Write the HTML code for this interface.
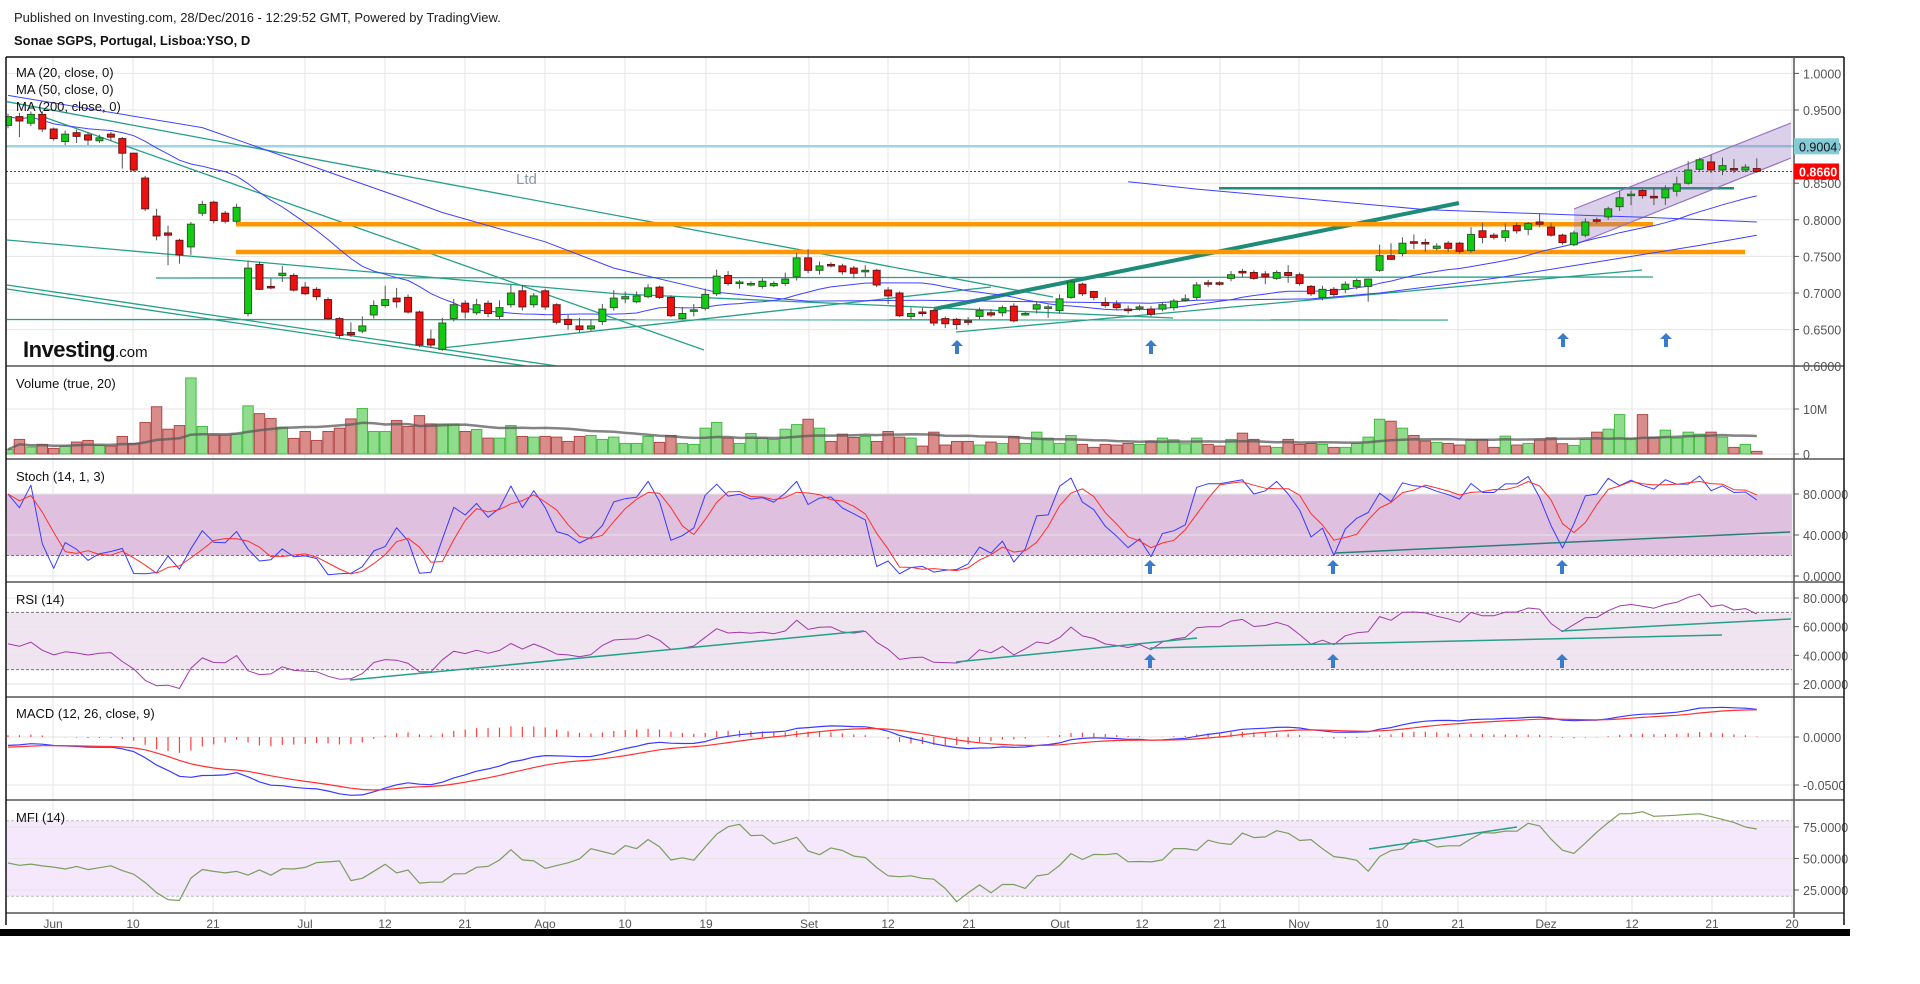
<!DOCTYPE html>
<html><head><meta charset="utf-8"><title>Sonae SGPS chart</title>
<style>
html,body{margin:0;padding:0;background:#fff;width:1920px;height:984px;overflow:hidden}
svg{display:block;font-family:"Liberation Sans",Arial,sans-serif}
</style></head>
<body>
<svg id="chart" width="1920" height="984" viewBox="0 0 1920 984" xmlns="http://www.w3.org/2000/svg">
<text x="14" y="22" font-size="13" fill="#222">Published on Investing.com, 28/Dec/2016 - 12:29:52 GMT, Powered by TradingView.</text>
<text x="14" y="45" font-size="13" font-weight="bold" fill="#111">Sonae SGPS, Portugal, Lisboa:YSO, D</text>
<g id="layer"></g>
</svg>
<script>
const opens=[.929,.941,.932,.944,.924,.907,.919,.916,.908,.917,.911,.891,.857,.805,.782,.772,.763,.809,.824,.809,.798,.672,.739,.709,.724,.724,.708,.705,.691,.665,.646,.648,.670,.683,.693,.694,.674,.637,.623,.665,.686,.673,.686,.668,.684,.703,.684,.703,.684,.664,.655,.651,.661,.680,.692,.688,.695,.708,.694,.665,.676,.679,.699,.724,.714,.711,.709,.710,.713,.722,.748,.731,.739,.737,.734,.730,.731,.704,.700,.668,.674,.676,.665,.664,.662,.668,.673,.673,.682,.671,.678,.680,.676,.694,.712,.702,.687,.685,.678,.680,.678,.678,.680,.691,.694,.714,.714,.720,.7295,.728,.726,.720,.728,.725,.709,.694,.705,.705,.709,.709,.731,.751,.754,.770,.769,.761,.768,.768,.758,.785,.779,.776,.792,.787,.797,.790,.779,.766,.779,.800,.804,.818,.834,.840,.832,.830,.839,.850,.869,.879,.868,.870,.868,.870];
const closes=[.941,.935,.944,.924,.911,.917,.914,.909,.912,.913,.891,.868,.815,.778,.779,.752,.794,.821,.799,.798,.817,.734,.705,.707,.727,.704,.699,.695,.665,.642,.643,.655,.683,.691,.688,.674,.629,.629,.659,.684,.674,.684,.672,.680,.700,.681,.696,.681,.660,.657,.650,.655,.678,.693,.695,.696,.707,.694,.669,.672,.677,.698,.723,.713,.715,.713,.716,.713,.719,.748,.731,.737,.738,.729,.727,.731,.711,.696,.669,.672,.673,.659,.658,.657,.661,.676,.670,.680,.662,.672,.684,.681,.692,.715,.699,.694,.683,.680,.676,.681,.671,.684,.689,.692,.711,.713,.713,.725,.729,.720,.722,.728,.724,.713,.699,.705,.698,.712,.717,.719,.751,.746,.768,.769,.768,.764,.761,.757,.780,.776,.776,.785,.785,.795,.794,.779,.769,.782,.797,.798,.815,.830,.835,.833,.831,.842,.849,.868,.882,.868,.874,.868,.872,.866];
const highs=[.945,.946,.948,.948,.926,.922,.923,.920,.916,.920,.913,.891,.860,.815,.792,.774,.797,.826,.826,.812,.822,.744,.743,.720,.737,.727,.715,.708,.694,.667,.660,.668,.690,.710,.707,.698,.676,.650,.666,.692,.690,.692,.690,.690,.711,.711,.700,.706,.686,.670,.666,.664,.685,.704,.702,.702,.712,.710,.697,.681,.685,.706,.732,.730,.718,.716,.720,.716,.728,.755,.760,.743,.742,.740,.737,.738,.733,.708,.702,.680,.680,.678,.668,.666,.667,.680,.678,.683,.686,.674,.689,.684,.698,.718,.714,.703,.694,.690,.683,.684,.682,.688,.692,.698,.715,.718,.716,.730,.733,.731,.730,.731,.738,.728,.711,.710,.708,.716,.720,.720,.766,.768,.776,.780,.774,.768,.771,.770,.790,.796,.782,.795,.796,.797,.809,.796,.781,.785,.802,.803,.818,.840,.840,.842,.843,.847,.859,.880,.885,.889,.885,.883,.876,.884];
const lows=[.925,.913,.928,.920,.908,.902,.905,.902,.905,.908,.870,.866,.812,.772,.738,.740,.752,.805,.795,.795,.795,.668,.704,.705,.715,.702,.697,.690,.663,.638,.640,.645,.665,.680,.680,.672,.626,.625,.621,.661,.665,.670,.667,.664,.680,.676,.680,.677,.657,.650,.646,.648,.656,.676,.686,.686,.693,.692,.667,.664,.668,.676,.696,.710,.706,.709,.706,.708,.710,.717,.727,.725,.735,.725,.720,.722,.708,.685,.667,.664,.668,.655,.652,.650,.656,.664,.667,.668,.660,.669,.672,.666,.672,.692,.696,.690,.680,.676,.672,.676,.668,.675,.676,.688,.690,.708,.710,.716,.722,.718,.712,.718,.714,.710,.696,.690,.695,.700,.705,.688,.729,.745,.750,.760,.756,.758,.756,.754,.755,.768,.773,.770,.781,.779,.790,.777,.766,.764,.776,.795,.800,.812,.820,.829,.820,.820,.832,.848,.866,.864,.861,.864,.865,.864];
const volumesM=[1.03,3.24,1.54,2.13,1.25,1.76,2.65,3.01,1.91,1.76,3.9,2.35,6.99,10.5,5.51,6.32,16.9,6.1,4.19,4.19,4.41,10.7,8.97,7.87,5.96,3.46,5.0,3.01,5.0,5.74,7.79,10.1,5.0,5.0,7.43,6.1,8.53,6.69,6.69,6.69,5.0,5.44,3.53,3.53,6.32,3.9,3.75,3.9,3.75,2.79,3.9,4.12,3.24,3.75,2.35,2.35,3.9,2.57,4.12,2.35,2.13,5.74,6.99,3.53,2.35,4.56,3.53,3.24,5.51,6.54,7.72,5.74,2.79,4.41,3.68,3.9,2.79,5.0,
3.75,3.53,1.76,4.85,1.99,2.79,2.79,1.99,2.65,2.35,3.9,2.35,4.85,3.53,2.35,4.12,2.13,1.47,2.13,1.99,2.35,2.13,2.87,3.53,3.16,2.28,3.53,2.13,1.76,3.24,4.63,3.24,1.76,1.47,3.24,2.13,2.35,2.13,1.47,1.47,2.35,3.75,7.72,7.28,5.74,4.12,2.87,2.57,2.35,1.99,3.24,3.24,1.47,3.97,1.99,2.35,3.09,3.6,2.28,1.91,3.24,4.85,5.51,8.75,3.53,8.75,3.75,5.29,3.53,4.85,4.41,4.85,3.75,1.47,2.13,0.59];
const ma50Idx=[0,17,35,38,47,53,62,67,70,80,90,100,104,114,120,130,140,148,153];
const ma50Val=[.970,.926,.827,.810,.770,.734,.701,.693,.689,.690,.688,.686,.690,.692,.700,.720,.745,.765,.779];
const ma200Idx=[98,104,124,138,144,153];
const ma200Val=[.852,.842,.814,.806,.803,.797];
// indicator starting state (history before the first visible bar)
const rsiSeedGain=[0.006];
const rsiSeedLoss=[0.0065];
const macdSeedEma=[0.935,0.945,-0.011];
const mfiSeedFlow=[2.6,3.0];
const xTickLabels=["Jun","10","21","Jul","12","21","Ago","10","19","Set","12","21","Out","12","21","Nov","10","21","Dez","12","21","20"];
const xTickPos=[53,133,213,305,385,465,545,625,706,809,888,969,1060,1142,1220,1299,1382,1458,1546,1632,1712,1792];
const priceTicks=[1.0,0.95,0.90,0.85,0.80,0.75,0.70,0.65,0.60];

const NS="http://www.w3.org/2000/svg";
const layer=document.getElementById('layer');
function mk(tag,attrs,parent){const e=document.createElementNS(NS,tag);for(const k in attrs)e.setAttribute(k,attrs[k]);(parent||layer).appendChild(e);return e;}
const L=6,R=1794,FR=1844;
const X=i=>8+i*11.43;
const PY=p=>293-(p-0.7)*732;
const VY=v=>454-v*4.5;
const SY=s=>576-s*1.025;
const RY=r=>598+(80-r)*1.4333;
const MY=m=>737-m*960;
const FY=v=>827+(75-v)*1.26;
const panes=[[57,366],[366,459],[459,582],[582,697],[697,800],[800,913]];

const defs=mk('defs',{});
panes.forEach((p,k)=>{const c=mk('clipPath',{id:'cp'+k},defs);mk('rect',{x:L,y:p[0],width:R-L,height:p[1]-p[0]},c);});

xTickPos.forEach((x,k)=>{
 const g=mk('line',{x1:x,x2:x,y1:57,y2:913,stroke:'#e6e6e6','stroke-width':1});
 
 
 const t=mk('text',{x:x,y:928,'font-size':12,fill:'#555','text-anchor':'middle'});
 t.textContent=xTickLabels[k];
 
 
});
function hgrid(y,label,name){
 const g=mk('line',{x1:L,x2:R,y1:y,y2:y,stroke:'#e6e6e6','stroke-width':1});
 
 
 mk('line',{x1:R,x2:R+5,y1:y,y2:y,stroke:'#555'});
 const t=mk('text',{x:R+9,y:y+5,'font-size':12.5,fill:'#555'});
 t.textContent=label;
 
 
}
priceTicks.forEach(p=>hgrid(PY(p),p.toFixed(4),'price'));
hgrid(VY(10),'10M','volume');hgrid(VY(0),'0','volume');
function band(y1,y2,fill,name,dash){
 const b=mk('rect',{x:L,y:y1,width:R-L-2,height:y2-y1,fill:fill});
 
 
 mk('line',{x1:L,x2:R-2,y1:y1,y2:y1,stroke:dash,'stroke-dasharray':'3,2'});
 mk('line',{x1:L,x2:R-2,y1:y2,y2:y2,stroke:dash,'stroke-dasharray':'3,2'});
}
band(SY(80),SY(20),'#dfc0df','stoch-band','#777');
[80,40,0].forEach(v=>hgrid(SY(v),v.toFixed(4),'stoch'));
band(RY(70),RY(30),'#f0e4f1','rsi-band','#777');
[80,60,40,20].forEach(v=>hgrid(RY(v),v.toFixed(4),'rsi'));
[0,-0.05].forEach(v=>hgrid(MY(v),v.toFixed(4),'macd'));
band(FY(80),FY(20),'#f5e8fc','mfi-band','#bbb');
[75,50,25].forEach(v=>hgrid(FY(v),v.toFixed(4),'mfi'));

const gMain=mk('g',{'clip-path':'url(#cp0)'});


const hl1=mk('line',{x1:L,x2:R,y1:PY(0.9004),y2:PY(0.9004),stroke:'#9fd4e2','stroke-width':2.5},gMain);


const hl2=mk('line',{x1:L,x2:R,y1:PY(0.866),y2:PY(0.866),stroke:'#e00','stroke-width':1,'stroke-dasharray':'2,2'},gMain);


function seg(pts,color,w,name,parent){
 const p=mk('polyline',{points:pts.map(a=>a.join(',')).join(' '),fill:'none',stroke:color,'stroke-width':w},parent);
 
 
 return p;
}
const teal='#26a08a';
seg([[7,101.7],[1053,297]],teal,1.3,'trendline-a',gMain);
seg([[38,115],[704,350]],teal,1.3,'trendline-b',gMain);
seg([[7,240],[620,294],[1173,318]],teal,1.3,'trendline-c',gMain);
seg([[156,278],[1653,277]],teal,1.3,'support-line-d',gMain);
seg([[7,319.5],[1448,320]],teal,1.3,'support-line-e',gMain);
seg([[7,285],[557,366]],teal,1.3,'channel-line-f1',gMain);
seg([[7,289],[560,371]],teal,1.3,'channel-line-f2',gMain);
seg([[442,348],[991,287]],teal,1.3,'trendline-g',gMain);
seg([[956,332],[1642,270]],teal,1.3,'trendline-h',gMain);
seg([[934,309],[1459,203]],'#1e8c78',4,'trendline-i',gMain);
seg([[1219,188.3],[1734,188.3]],'#1e8c78',2.5,'support-line-j',gMain);
seg([[236,PY(0.794)],[1653,PY(0.794)]],'#ff9800',4.5,'orange-level-upper',gMain);
seg([[236,PY(0.756)],[1745,PY(0.756)]],'#ff9800',4.5,'orange-level-lower',gMain);
const ch=mk('polygon',{points:'1574,209 1791,123 1791,158 1574,245',fill:'rgba(140,110,190,0.32)',stroke:'none'},gMain);


seg([[1574,209],[1791,123]],'#9a70c0',1.2,'channel-upper',gMain);
seg([[1574,245],[1791,158]],'#9a70c0',1.2,'channel-lower',gMain);
function line(vals,xf,yf,color,w,name,parent){
 const pts=[];vals.forEach((v,k)=>{if(v!=null)pts.push(xf(k).toFixed(1)+','+yf(v).toFixed(1));});
 const p=mk('polyline',{points:pts.join(' '),fill:'none',stroke:color,'stroke-width':w,'stroke-linejoin':'round'},parent);
 
 
 return p;
}
function sma(arr,n){return arr.map((v,i)=>{const s=Math.max(0,i-n+1);let t=0;for(let k=s;k<=i;k++)t+=arr[k];return t/(i-s+1);});}
const ma20=sma(closes,20);
line(ma20,X,PY,'#4040ff',1,'ma20-line',gMain);
line(ma50Val,k=>X(ma50Idx[k]),PY,'#4040ff',1,'ma50-line',gMain);
line(ma200Val,k=>X(ma200Idx[k]),PY,'#4040ff',1,'ma200-line',gMain);
closes.forEach((c,i)=>{
 const o=opens[i],up=c>=o,x=X(i);
 const w=mk('line',{x1:x,x2:x,y1:PY(highs[i]),y2:PY(lows[i]),stroke:'#555','stroke-width':1},gMain);
 
 
 const top=PY(Math.max(o,c)),bot=PY(Math.min(o,c));
 const b=mk('rect',{x:x-3.5,y:top,width:7,height:Math.max(1.5,bot-top),fill:up?'#12cc12':'#ee1111',stroke:up?'#2a5a2a':'#6a1515','stroke-width':1},gMain);
 
 
});
function arrow(x,y,name){
 const a=mk('path',{d:`M${x},${y-7} L${x+6},${y-1} L${x+2},${y-1} L${x+2},${y+7} L${x-2},${y+7} L${x-2},${y-1} L${x-6},${y-1} Z`,fill:'#3a7ccc'});
 
 
}
[[957,347],[1151,347],[1563,340],[1666,340]].forEach(p=>arrow(p[0],p[1],'price-arrow'));
const ltd=mk('text',{x:516,y:184,'font-size':15,fill:'#8898aa'});ltd.textContent='Ltd';


const logo=mk('text',{x:23,y:357,'font-size':22,'font-weight':'bold',fill:'#111','letter-spacing':'-0.5'});


logo.innerHTML='Investing<tspan font-size="15" font-weight="normal" letter-spacing="0">.com</tspan>';

const gVol=mk('g',{'clip-path':'url(#cp1)'});
volumesM.forEach((v,i)=>{
 const up=closes[i]>=opens[i];
 const b=mk('rect',{x:X(i)-5.2,y:VY(v),width:10.4,height:v*4.5,fill:up?'#8fdc8c':'#d98c8a',stroke:up?'#44bb44':'#b04848','stroke-width':1},gVol);
 
 
});
line(sma(volumesM,20),X,VY,'rgba(90,90,90,0.75)',2.5,'volume-ma-line',gVol);

const kArr=closes.map((c,i)=>{const s=Math.max(0,i-13);let hh=-1,ll=9;for(let k=s;k<=i;k++){hh=Math.max(hh,highs[k]);ll=Math.min(ll,lows[k]);}return hh>ll?100*(c-ll)/(hh-ll):50;});
const dArr=sma(kArr,3);
const gSt=mk('g',{'clip-path':'url(#cp2)'});
line(kArr,X,SY,'#3a3aff',1,'stoch-k-line',gSt);
line(dArr,X,SY,'#ff3030',1,'stoch-d-line',gSt);
seg([[1335,553],[1790,532]],'#2a7f7a',1.5,'stoch-trendline',gSt);
[[1150,567],[1333,567],[1562,567]].forEach(p=>arrow(p[0],p[1],'stoch-arrow'));

const rsi=[];let ag=rsiSeedGain[0],al=rsiSeedLoss[0];
closes.forEach((c,i)=>{if(i>0){const d=c-closes[i-1];ag=(ag*13+Math.max(d,0))/14;al=(al*13+Math.max(-d,0))/14;}
 rsi.push(al===0?100:100-100/(1+ag/al));});
const gR=mk('g',{'clip-path':'url(#cp3)'});
line(rsi,X,RY,'#a03aa8',1,'rsi-line',gR);
seg([[350,680],[864,631]],teal,1.5,'rsi-trendline-1',gR);
seg([[956,662],[1197,638]],teal,1.5,'rsi-trendline-2',gR);
seg([[1150,648],[1722,635]],teal,1.5,'rsi-trendline-3',gR);
seg([[1561,631],[1791,619]],teal,1.5,'rsi-trendline-4',gR);
[[1150,661],[1333,661],[1562,661]].forEach(p=>arrow(p[0],p[1],'rsi-arrow'));

function ema(arr,n,seed){const a=2/(n+1);const out=[];let prev=seed;arr.forEach(v=>{prev=prev+a*(v-prev);out.push(prev);});return out;}
const e12=ema(closes,12,macdSeedEma[0]),e26=ema(closes,26,macdSeedEma[1]);
const macd=closes.map((c,i)=>e12[i]-e26[i]);
const sig=ema(macd,9,macdSeedEma[2]);
const gM=mk('g',{'clip-path':'url(#cp4)'});
macd.forEach((m,i)=>{const h=m-sig[i];const b=mk('line',{x1:X(i),x2:X(i),y1:MY(0),y2:MY(h),stroke:'#ff4040','stroke-width':1.2},gM);
 
 });
line(macd,X,MY,'#3a3aff',1.2,'macd-line',gM);
line(sig,X,MY,'#ff3030',1.2,'macd-signal-line',gM);

const tp=closes.map((c,i)=>(highs[i]+lows[i]+c)/3);
const mfi=tp.map((t,i)=>{let pos=0,neg=0;const start=i-13;
 for(let k=start;k<=i;k++){
  if(k<1){pos+=mfiSeedFlow[0];neg+=mfiSeedFlow[1];continue;}
  const f=tp[k]*volumesM[k];if(tp[k]>tp[k-1])pos+=f;else if(tp[k]<tp[k-1])neg+=f;}
 return neg===0?100:100-100/(1+pos/neg);});
const gF=mk('g',{'clip-path':'url(#cp5)'});
line(mfi,X,FY,'#7a9e5e',1.2,'mfi-line',gF);
seg([[1369,849],[1517,827]],teal,1.5,'mfi-trendline',gF);

[['MA (20, close, 0)',77,'ma20-legend'],['MA (50, close, 0)',94,'ma50-legend'],['MA (200, close, 0)',111,'ma200-legend'],
 ['Volume (true, 20)',388,'volume-legend'],['Stoch (14, 1, 3)',481,'stoch-legend'],['RSI (14)',604,'rsi-legend'],
 ['MACD (12, 26, close, 9)',718,'macd-legend'],['MFI (14)',822,'mfi-legend']].forEach(a=>{
 const t=mk('text',{x:16,y:a[1],'font-size':13,fill:'#111'});t.textContent=a[0];
 
 });

panes.slice(1).forEach(p=>mk('line',{x1:L,x2:FR,y1:p[0],y2:p[0],stroke:'#555','stroke-width':1.5}));
mk('line',{x1:L,x2:FR,y1:913,y2:913,stroke:'#555','stroke-width':1.5});
mk('line',{x1:L,x2:FR,y1:57,y2:57,stroke:'#111','stroke-width':1.5});
mk('line',{x1:L,x2:L,y1:57,y2:925,stroke:'#111','stroke-width':1.5});
mk('line',{x1:FR,x2:FR,y1:57,y2:925,stroke:'#111','stroke-width':1.5});
mk('line',{x1:R,x2:R,y1:57,y2:918,stroke:'#555','stroke-width':1.5});
const bar=mk('rect',{x:0,y:929,width:1850,height:7,fill:'#000'});



function tag(y,bg,fg,txt,name){
 const r=mk('rect',{x:R,y:y-8,width:45,height:16,fill:bg});
 
 
 const t=mk('text',{x:R+5,y:y+5,'font-size':12.5,fill:fg,'font-weight':fg==='#fff'?'bold':'normal'});t.textContent=txt;
 
 
}
tag(PY(0.9004),'#84cbd8','#111','0.9004','level-price-tag');
tag(PY(0.866),'#f00','#fff','0.8660','last-price-tag');
</script>
</body></html>
